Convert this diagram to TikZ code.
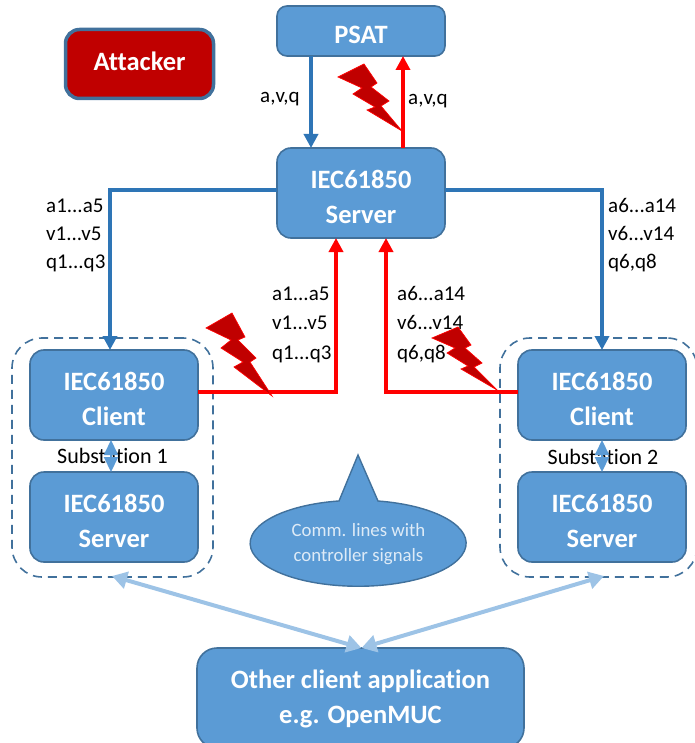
\documentclass[tikz,border=0pt]{standalone}
\usepackage{fontspec}
\setmainfont[Ligatures=NoCommon]{Carlito}
\usetikzlibrary{arrows.meta,shapes.geometric}
\definecolor{boxfill}{HTML}{5B9BD5}
\definecolor{boxline}{HTML}{41719C}
\definecolor{bluearrow}{HTML}{2E75B6}
\definecolor{lightarrow}{HTML}{9DC3E6}
\definecolor{attackred}{HTML}{C00000}
\definecolor{callouttext}{HTML}{DEEBF7}
\tikzset{
  bluebox/.style={draw=boxline,fill=boxfill,line width=1.6pt,rounded corners=14pt,
    minimum width=168pt,minimum height=90pt,inner sep=0pt,outer sep=0pt,align=center,
    text=white,font=\fontsize{26.5}{35}\selectfont\bfseries,text depth=0pt},
  twoline/.style={bluebox,text height=60pt},
  groupbox/.style={draw=boxline,line width=1.6pt,dash pattern=on 9pt off 6pt,rounded corners=30pt,
    inner sep=0pt,outer sep=0pt},
  datalabel/.style={align=left,anchor=west,inner sep=0pt,text=black,font=\fontsize{21}{28}\selectfont},
  toparrow/.style={draw=bluearrow,line width=4pt,-{Triangle[length=14pt,width=14pt]}},
  redarrow/.style={draw=red,line width=4pt,-{Triangle[length=14pt,width=14pt]}},
  linkarrow/.style={draw=boxfill,line width=2pt,{Triangle[length=15pt,width=14pt]}-{Triangle[length=15pt,width=14pt]}},
  paleArrow/.style={draw=lightarrow,line width=4pt,{Triangle[length=15pt,width=17pt]}-{Triangle[length=15pt,width=17pt]}},
  bolt/.style={fill=attackred,draw=red,line width=0.7pt,line join=miter},
}
\begin{document}
\begin{tikzpicture}[x=1pt,y=-1pt]
\useasboundingbox (0,0) rectangle (694,743);
% group frames
\node[groupbox,minimum width=201pt,minimum height=239pt] (grpa) at (112.5,457.5) {};
\node[groupbox,minimum width=197pt,minimum height=239pt] (grpb) at (598.5,457.5) {};
% boxes
\node[bluebox,minimum height=50pt,rounded corners=10pt,text height=25pt] (psat) at (361,31) {PSAT};
\node[bluebox,draw=boxline,fill=attackred,line width=3.5pt,minimum width=148pt,minimum height=69pt,text depth=5pt] (attacker) at (139.5,64) {Attacker};
\node[twoline] (srv) at (361,193) {IEC61850\\Server};
\node[twoline] (clia) at (114,395) {IEC61850\\Client};
\node[twoline] (srva) at (114,517) {IEC61850\\Server};
\node[twoline] (clib) at (602,395) {IEC61850\\Client};
\node[twoline] (srvb) at (602,517) {IEC61850\\Server};
\node[bluebox,minimum width=327pt,minimum height=100pt,rounded corners=20pt,text depth=3pt] (other) at (360.5,698) {Other client application\\e.g. OpenMUC};
% connectors
\draw[toparrow] ([xshift=-50pt]psat.south) -- ([xshift=-50pt]srv.north);
\draw[redarrow] ([xshift=42pt]srv.north) -- ([xshift=42pt]psat.south);
\draw[toparrow] ([yshift=3pt]srv.west) -| ([xshift=-4pt]clia.north);
\draw[toparrow] ([yshift=3pt]srv.east) -| (clib.north);
\draw[redarrow] ([yshift=3pt]clia.east) -| ([xshift=-25pt]srv.south);
\draw[redarrow] ([yshift=3pt]clib.west) -| ([xshift=25pt]srv.south);
% bolts
\draw[bolt] (338,77) -- (364,64) -- (377,83) -- (371,87) -- (389,101) -- (381,106) -- (402,131) -- (367,110) -- (375,107) -- (353,94) -- (362,88) -- cycle;
\draw[bolt] (206,328) -- (232,313) -- (245,337) -- (238,340) -- (256,358) -- (250,362) -- (272,396) -- (234,367) -- (243,362) -- (221,348) -- (231,340) -- cycle;
% data labels
\node[datalabel] (lbtop) at (260,99) {a,v,q};
\node[datalabel] (lbup) at (408,101) {a,v,q};
\node[datalabel] (lbl) at (46,235) {a1...a5\\v1...v5\\q1...q3};
\node[datalabel] (lbr) at (608,235) {a6...a14\\v6...v14\\q6,q8};
\node[datalabel,font=\fontsize{21}{29.5}\selectfont] (lbcl) at (272,324.5) {a1...a5\\v1...v5\\q1...q3};
\node[datalabel,font=\fontsize{21}{29.5}\selectfont] (lbcr) at (397,324.5) {a6...a14\\v6...v14\\q6,q8};
\draw[bolt] (432,338) -- (458,327) -- (471,345) -- (465,348) -- (482,363) -- (474,367) -- (497,390) -- (461,369) -- (468,366) -- (447,353) -- (455,348) -- cycle;
% substation labels and links
\node[inner sep=0pt,font=\fontsize{22}{23}\selectfont] (suba) at (112.5,456) {Substation 1};
\node[inner sep=0pt,font=\fontsize{22}{23}\selectfont] (subb) at (603,457) {Substation 2};
\draw[linkarrow] ([xshift=-3pt]clia.south) -- ([xshift=-3pt]srva.north);
\draw[linkarrow] (clib.south) -- (srvb.north);
% callout
\draw[draw=boxline,fill=boxfill,line width=1.4pt] (339,501) -- (358,455) -- (378,501) arc[start angle=-79.4,end angle=259.4,x radius=108pt,y radius=-43pt] -- cycle;
\node[align=center,inner sep=0pt,text=callouttext,font=\fontsize{18.8}{25}\selectfont] (calltext) at (358.5,544) {Comm. lines with\\controller signals};
% client application links
\coordinate (tipa) at (112,576);
\coordinate (tipb) at (604,576);
\draw[paleArrow] ([xshift=1pt]other.north) -- (tipa);
\draw[paleArrow] ([xshift=1pt]other.north) -- (tipb);
\end{tikzpicture}
\end{document}
